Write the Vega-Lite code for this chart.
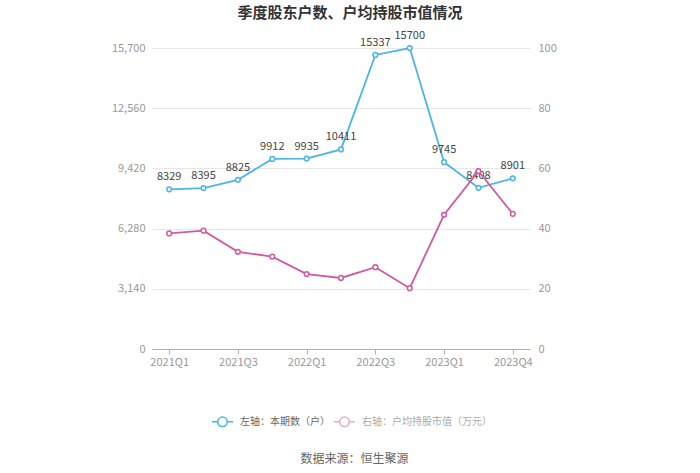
{
  "$schema": "https://vega.github.io/schema/vega-lite/v6.json",
  "width": 378,
  "height": 301,
  "autosize": "none",
  "padding": {"left": 152, "top": 48, "right": 170, "bottom": 124},
  "background": "white",
  "config": {
    "font": "Noto Sans CJK SC",
    "view": {"stroke": null}
  },
  "title": {
    "text": "季度股东户数、户均持股市值情况",
    "fontSize": 15,
    "fontWeight": "bold",
    "color": "#333333",
    "anchor": "middle",
    "frame": "group",
    "dx": 9,
    "offset": 9
  },
  "data": {
    "values": [
      {"q": "2021Q1", "s": "左轴：本期数（户）", "v": 8329},
      {"q": "2021Q2", "s": "左轴：本期数（户）", "v": 8395},
      {"q": "2021Q3", "s": "左轴：本期数（户）", "v": 8825},
      {"q": "2021Q4", "s": "左轴：本期数（户）", "v": 9912},
      {"q": "2022Q1", "s": "左轴：本期数（户）", "v": 9935},
      {"q": "2022Q2", "s": "左轴：本期数（户）", "v": 10411},
      {"q": "2022Q3", "s": "左轴：本期数（户）", "v": 15337},
      {"q": "2022Q4", "s": "左轴：本期数（户）", "v": 15700},
      {"q": "2023Q1", "s": "左轴：本期数（户）", "v": 9745},
      {"q": "2023Q3", "s": "左轴：本期数（户）", "v": 8408},
      {"q": "2023Q4", "s": "左轴：本期数（户）", "v": 8901},
      {"q": "2021Q1", "s": "右轴：户均持股市值（万元）", "v": 38.4},
      {"q": "2021Q2", "s": "右轴：户均持股市值（万元）", "v": 39.3},
      {"q": "2021Q3", "s": "右轴：户均持股市值（万元）", "v": 32.3},
      {"q": "2021Q4", "s": "右轴：户均持股市值（万元）", "v": 30.7},
      {"q": "2022Q1", "s": "右轴：户均持股市值（万元）", "v": 24.9},
      {"q": "2022Q2", "s": "右轴：户均持股市值（万元）", "v": 23.6},
      {"q": "2022Q3", "s": "右轴：户均持股市值（万元）", "v": 27.2},
      {"q": "2022Q4", "s": "右轴：户均持股市值（万元）", "v": 20.2},
      {"q": "2023Q1", "s": "右轴：户均持股市值（万元）", "v": 44.6},
      {"q": "2023Q3", "s": "右轴：户均持股市值（万元）", "v": 59.1},
      {"q": "2023Q4", "s": "右轴：户均持股市值（万元）", "v": 44.9}
    ]
  },
  "encoding": {
    "x": {
      "field": "q",
      "type": "ordinal",
      "sort": null,
      "scale": {"type": "point", "padding": 0.5},
      "axis": {
        "values": ["2021Q1", "2021Q3", "2022Q1", "2022Q3", "2023Q1", "2023Q4"],
        "labelAngle": 0,
        "labelColor": "#999999",
        "labelFontSize": 11,
        "labelPadding": 2,
        "domainColor": "#b0b0b0",
        "tickColor": "#b0b0b0",
        "tickSize": 5,
        "grid": false,
        "title": "数据来源：恒生聚源",
        "titleFontSize": 12,
        "titleFontWeight": "normal",
        "titleColor": "#666666",
        "titlePadding": 86,
        "titleX": 202
      }
    },
    "color": {
      "field": "s",
      "type": "nominal",
      "scale": {
        "domain": ["左轴：本期数（户）", "右轴：户均持股市值（万元）"],
        "range": ["#4cb4e7", "#d05aa0"]
      },
      "legend": {
        "orient": "none",
        "direction": "horizontal",
        "legendX": 59,
        "legendY": 362,
        "title": null,
        "labelFontSize": 10,
        "labelColor": "#666666",
        "symbolType": "M-1,0H-0.45M0.45,0H1M-0.45,0A0.45,0.45,0,1,1,0.45,0A0.45,0.45,0,1,1,-0.45,0",
        "symbolSize": 441,
        "symbolStrokeWidth": 1.6,
        "symbolFillColor": "white",
        "symbolOffset": 0,
        "labelOffset": 6,
        "columnPadding": 0,
        "encode": {
          "symbols": {
            "update": {
              "fill": {"value": "white"},
              "opacity": {"signal": "datum.value === '右轴：户均持股市值（万元）' ? 0.5 : 1"}
            }
          },
          "labels": {
            "update": {
              "fill": {"signal": "datum.value === '右轴：户均持股市值（万元）' ? '#aaaaaa' : '#666666'"}
            }
          }
        }
      }
    }
  },
  "layer": [
    {
      "transform": [{"filter": "datum.s === '左轴：本期数（户）'"}],
      "encoding": {
        "y": {
          "field": "v",
          "type": "quantitative",
          "scale": {"domain": [0, 15700], "nice": false},
          "axis": {
            "orient": "left",
            "values": [0, 3140, 6280, 9420, 12560, 15700],
            "format": ",d",
            "title": null,
            "labelColor": "#999999",
            "labelFontSize": 11,
            "labelPadding": 7,
            "domain": false,
            "ticks": false,
            "grid": true,
            "gridColor": "#e6e6e6"
          }
        }
      },
      "layer": [
        {"mark": {"type": "line", "strokeWidth": 1.8}},
        {"mark": {"type": "point", "filled": false, "fill": "white", "fillOpacity": 1, "strokeWidth": 1.5, "size": 22, "opacity": 1}},
        {"mark": {"type": "text", "dy": -12, "fontSize": 11, "color": "#444444"}, "encoding": {"text": {"field": "v", "type": "quantitative", "format": "d"}, "color": {"value": "#444444"}}}
      ]
    },
    {
      "transform": [{"filter": "datum.s === '右轴：户均持股市值（万元）'"}],
      "encoding": {
        "y": {
          "field": "v",
          "type": "quantitative",
          "scale": {"domain": [0, 100], "nice": false},
          "axis": {
            "orient": "right",
            "values": [0, 20, 40, 60, 80, 100],
            "title": null,
            "labelColor": "#999999",
            "labelFontSize": 11,
            "labelPadding": 8,
            "domain": false,
            "ticks": false,
            "grid": false
          }
        }
      },
      "layer": [
        {"mark": {"type": "line", "strokeWidth": 1.8}},
        {"mark": {"type": "point", "filled": false, "fill": "white", "fillOpacity": 1, "strokeWidth": 1.5, "size": 22, "opacity": 1}}
      ]
    }
  ],
  "resolve": {"scale": {"y": "independent"}}
}
